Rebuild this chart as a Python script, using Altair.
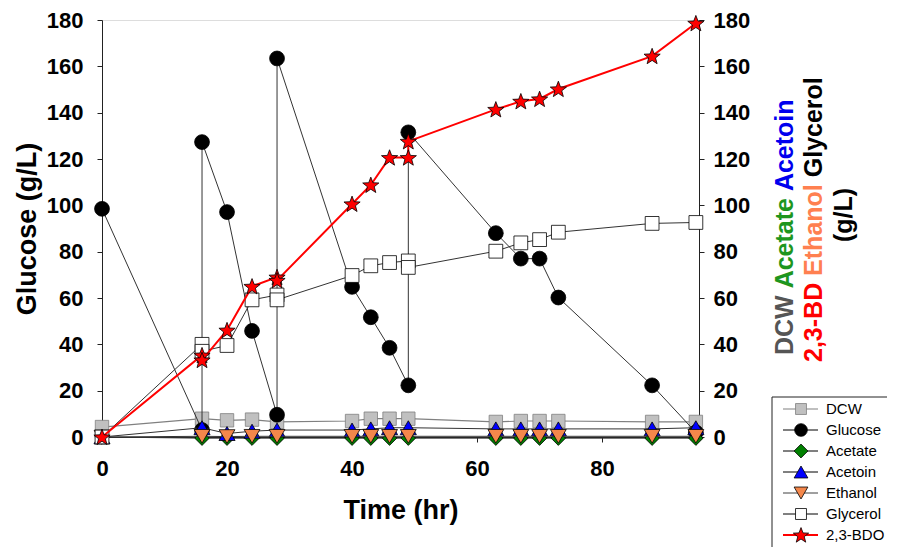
import math
import altair as alt
import pandas as pd

# ---------------- data ----------------
time = [0, 16, 20, 24, 28, 40, 43, 46, 49, 63, 67, 70, 73, 88, 95]
dcw = [4.3, 7.9, 7.2, 7.5, 6.5, 6.9, 7.9, 7.9, 7.9, 6.5, 6.9, 6.9, 6.9, 6.5, 6.5]
acetate = [0.0, -0.5, -0.5, -0.5, -0.5, -0.5, -0.5, -0.5, -0.5, -0.5, -0.5, -0.5, -0.5, -0.5, -0.5]
acetoin = [0.0, 4.0, 1.5, 2.5, 3.0, 3.0, 3.5, 4.0, 4.0, 3.5, 3.5, 3.5, 3.5, 3.5, 4.0]
ethanol = [0.0, 0.3, 0.2, 0.3, 0.3, 0.3, 0.3, 0.3, 0.3, 0.3, 0.3, 0.3, 0.3, 0.3, 0.3]

fed_time = [0, 16, 16, 20, 24, 28, 28, 40, 43, 46, 49, 49, 63, 67, 70, 73, 88, 95]
glucose = [98.5, 3.0, 127.3, 97.1, 45.8, 9.6, 163.4, 64.8, 51.7, 38.5, 22.3, 131.5,
           88.0, 77.0, 77.0, 60.2, 22.3, 2.0]
glycerol = [0.0, 40.0, 37.0, 39.5, 59.2, 61.3, 59.2, 69.7, 73.9, 75.3, 76.0, 73.2,
            80.2, 83.8, 85.2, 88.4, 92.2, 92.6]
bdo = [0.0, 35.3, 33.2, 46.1, 65.0, 69.0, 67.6, 100.6, 108.8, 120.6, 120.6, 127.6,
       141.4, 144.9, 145.9, 150.2, 164.4, 178.6]

legend_labels = ["DCW", "Glucose", "Acetate", "Acetoin", "Ethanol", "Glycerol", "2,3-BDO"]
x_ticks = [0, 20, 40, 60, 80]
y_ticks = [0, 20, 40, 60, 80, 100, 120, 140, 160, 180]

# ---------------- styling ----------------
FONT = "Liberation Sans"
TOP = 12
W, H = 597, 417
XDOM = [0, 95.5]
YDOM = [0, 180]
OY = 8 + TOP  # page y of plot top

# 5-point star as a custom symbol path within [-1, 1]
pts = []
for k in range(10):
    r = 1.0 if k % 2 == 0 else 0.42
    a = -math.pi / 2 + k * math.pi / 5
    pts.append(f"{r*math.cos(a):.3f},{r*math.sin(a)+0.08:.3f}")
STAR = "M" + "L".join(pts) + "Z"

styles = {
    "DCW": dict(shape="square", fill="#c0c0c0", stroke="#808080", line="#808080", lw=1.2, size=180),
    "Glucose": dict(shape="circle", fill="#000000", stroke="#000000", line="#333333", lw=1.0, size=220),
    "Acetate": dict(shape="diamond", fill="#008000", stroke="#000000", line="#333333", lw=1.0, size=210),
    "Acetoin": dict(shape="triangle-up", fill="#0000ff", stroke="#000000", line="#333333", lw=1.0, size=260),
    "Ethanol": dict(shape="triangle-down", fill="#f4874b", stroke="#000000", line="#333333", lw=1.0, size=250),
    "Glycerol": dict(shape="square", fill="#ffffff", stroke="#000000", line="#333333", lw=1.0, size=190),
    "2,3-BDO": dict(shape=STAR, fill="#ff0000", stroke="#000000", line="#ff0000", lw=2.0, size=290),
}

def frame(t, v, name):
    return pd.DataFrame({"t": t, "v": v, "seq": list(range(len(t))), "series": name})

series_data = {
    "DCW": frame(time, dcw, "DCW"),
    "Glucose": frame(fed_time, glucose, "Glucose"),
    "Acetate": frame(time, acetate, "Acetate"),
    "Acetoin": frame(time, acetoin, "Acetoin"),
    "Ethanol": frame(time, ethanol, "Ethanol"),
    "Glycerol": frame(fed_time, glycerol, "Glycerol"),
    "2,3-BDO": frame(fed_time, bdo, "2,3-BDO"),
}

x_axis = alt.Axis(title="Time (hr)", values=x_ticks, tickSize=5, labelPadding=16,
                  titlePadding=18, labelFontSize=22, titleFontSize=27,
                  labelFont=FONT, titleFont=FONT, labelFontWeight="bold",
                  titleFontWeight="bold", domainColor="#222", tickColor="#222",
                  labelColor="black", titleColor="black", grid=False, labelFlush=False)
x_enc = alt.X("t:Q", scale=alt.Scale(domain=XDOM, nice=False, zero=False), axis=x_axis)

left_axis = alt.Axis(title="Glucose (g/L)", values=y_ticks, tickSize=5, labelPadding=14,
                     titlePadding=5, labelFontSize=22, titleFontSize=27, labelFont=FONT,
                     titleFont=FONT, labelFontWeight="bold", titleFontWeight="bold",
                     domainColor="#222", tickColor="#222", labelColor="black",
                     titleColor="black", grid=False, orient="left", labelFlush=False)
right_axis = alt.Axis(title=None, values=y_ticks, tickSize=5, labelPadding=9,
                      labelFontSize=22, labelFont=FONT, labelFontWeight="bold",
                      domainColor="#222", tickColor="#222", labelColor="black",
                      grid=False, orient="right", labelFlush=False)

def y_enc(axis):
    return alt.Y("v:Q", scale=alt.Scale(domain=YDOM, nice=False, zero=False), axis=axis)

layers = []
for i, name in enumerate(legend_labels):
    st = styles[name]
    df = series_data[name]
    if name == "Glucose":
        ax = left_axis
    elif name == "DCW":
        ax = right_axis
    else:
        ax = None
    line = alt.Chart(df).mark_line(color=st["line"], strokeWidth=st["lw"]).encode(
        x=x_enc, y=y_enc(ax), order="seq:Q")
    pt = alt.Chart(df).mark_point(shape=st["shape"], size=st["size"], filled=True,
                                  fill=st["fill"], stroke=st["stroke"], strokeWidth=0.8,
                                  opacity=1, fillOpacity=1).encode(
        x=x_enc, y=y_enc(None))
    layers += [line, pt]

# ---------------- manual legend (pixel positions relative to plot origin) ----------------
leg = pd.DataFrame({
    "label": legend_labels,
    "py": [409 - OY + 21 * i for i in range(len(legend_labels))],
    "shape": [styles[n]["shape"] for n in legend_labels],
    "fill": [styles[n]["fill"] for n in legend_labels],
    "stroke": [styles[n]["stroke"] for n in legend_labels],
    "line": ["#808080", "#000000", "#000000", "#000000", "#404040", "#000000", "#ff0000"],
    "lw": [1.2, 1, 1, 1, 1, 1, 2],
    "size": [120, 160, 190, 190, 190, 120, 260],
})
box = alt.Chart(pd.DataFrame({"a": [0]})).mark_rect(fill="white", stroke="#222", strokeWidth=1).encode(
    x=alt.value(670), x2=alt.value(794), y=alt.value(397 - OY), y2=alt.value(552 - OY))
leg_lines = alt.Chart(leg).mark_rule().encode(
    x=alt.value(681), x2=alt.value(716), y=alt.Y("py:Q", scale=None),
    color=alt.Color("line:N", scale=None), strokeWidth=alt.StrokeWidth("lw:Q", scale=None))
leg_pts = alt.Chart(leg).mark_point(filled=True, opacity=1, strokeWidth=0.8).encode(
    x=alt.value(699), y=alt.Y("py:Q", scale=None),
    shape=alt.Shape("shape:N", scale=None), fill=alt.Fill("fill:N", scale=None),
    stroke=alt.Stroke("stroke:N", scale=None), size=alt.Size("size:Q", scale=None))
leg_text = alt.Chart(leg).mark_text(align="left", baseline="middle", font=FONT, fontSize=15,
                                    color="black").encode(
    x=alt.value(724), y=alt.Y("py:Q", scale=None), text="label:N")

# ---------------- multi-coloured right-hand title ----------------
CW = {"A": 722, "B": 722, "C": 722, "D": 722, "E": 667, "G": 778, "L": 611, "W": 944,
      "a": 556, "c": 556, "e": 556, "h": 611, "i": 278, "l": 278, "n": 611, "o": 611,
      "r": 389, "t": 333, "y": 556, "g": 611, ",": 278, "-": 333, "2": 556, "3": 556,
      "(": 333, ")": 333, "/": 278, " ": 278}
TFS = 25
def tw(s):
    return sum(CW.get(c, 556) for c in s) * TFS / 1000.0

title_lines = [
    (683, 355 - OY, [("DCW", "#555555"), ("Acetate", "#1e961e"), ("Acetoin", "#0000ee")]),
    (712, 362 - OY, [("2,3-BD", "#ff0000"), ("Ethanol", "#ff8050"), ("Glycerol", "#000000")]),
]
rows = []
for cx, bottom, words in title_lines:
    y = bottom
    for w, c in words:
        rows.append({"w": w, "c": c, "x": cx, "y": y})
        y -= tw(w + " ")
rows.append({"w": "(g/L)", "c": "#000000", "x": 742, "y": 215 - OY + tw("(g/L)") / 2})
tdf = pd.DataFrame(rows)
title_txt = alt.Chart(tdf).mark_text(angle=270, align="left", baseline="middle", font=FONT,
                                     fontSize=TFS, fontWeight="bold").encode(
    x=alt.X("x:Q", scale=None), y=alt.Y("y:Q", scale=None), text="w:N",
    color=alt.Color("c:N", scale=None))

chart = alt.layer(*layers, box, leg_lines, leg_pts, leg_text, title_txt).resolve_scale(
    y="independent").properties(
    width=W, height=H,
    autosize=alt.AutoSizeParams(type="none"),
    padding={"left": 94, "top": TOP, "right": 188, "bottom": 110},
).configure_view(stroke="#222", strokeWidth=1).configure(background="white")

chart.save("out.html", embed_options={"renderer": "svg", "actions": False})
